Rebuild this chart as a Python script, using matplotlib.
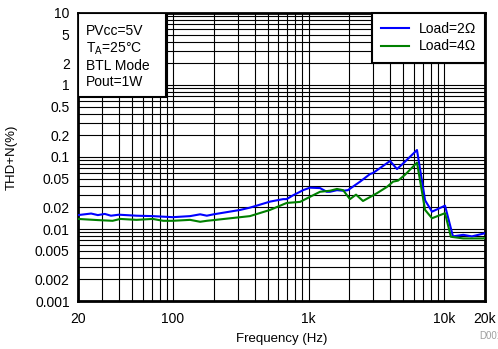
import numpy as np
import matplotlib
matplotlib.use("Agg")
import matplotlib.pyplot as plt
from matplotlib.ticker import FixedLocator, NullFormatter
from matplotlib.patches import Rectangle

plt.rcParams['font.family'] = ['Liberation Sans', 'DejaVu Sans']

# ---------------- data ----------------
freq_2ohm = [20, 25, 28, 31.5, 35, 40, 54, 71, 100, 134, 159, 178, 200, 313, 370, 415,
             520, 650, 690, 770, 866, 910, 1026, 1216, 1362, 1440, 1620, 1800, 1950,
             2400, 2840, 2990, 3990, 4490, 4970, 6300, 7230, 8130, 10140, 11600,
             13800, 16000, 19300, 20000]
thd_2ohm = [0.0156, 0.0164, 0.0156, 0.0162, 0.0153, 0.0158, 0.0153, 0.0151, 0.0146,
            0.0151, 0.016, 0.0153, 0.016, 0.0184, 0.0198, 0.0211, 0.024, 0.026, 0.026,
            0.0294, 0.0329, 0.0346, 0.0375, 0.037, 0.0329, 0.0329, 0.0346, 0.034,
            0.0346, 0.0455, 0.058, 0.06, 0.088, 0.068, 0.081, 0.125, 0.025, 0.0174,
            0.0211, 0.0079, 0.0083, 0.0079, 0.0086, 0.0087]

freq_4ohm = [20, 28, 36, 41, 54, 71, 85, 100, 134, 159, 178, 200, 370, 520, 690, 866,
             1026, 1216, 1440, 1620, 1800, 2020, 2240, 2520, 3200, 3790, 4200, 4570,
             5140, 6300, 7230, 8130, 10140, 11200, 13800, 19300, 20000]
thd_4ohm = [0.0138, 0.0133, 0.013, 0.0138, 0.0134, 0.0138, 0.013, 0.013, 0.0134,
            0.0126, 0.013, 0.0133, 0.0151, 0.0184, 0.023, 0.0238, 0.028, 0.0329, 0.034,
            0.036, 0.0346, 0.026, 0.030, 0.0245, 0.0315, 0.0385, 0.0455, 0.047,
            0.0566, 0.0835, 0.0184, 0.0141, 0.0166, 0.0078, 0.0074, 0.0074, 0.0075]

x_ticks = [20, 100, 1000, 10000, 20000]
x_labels = ['20', '100', '1k', '10k', '20k']
y_ticks = [0.001, 0.002, 0.005, 0.01, 0.02, 0.05, 0.1, 0.2, 0.5, 1, 2, 5, 10]
y_labels = ['0.001', '0.002', '0.005', '0.01', '0.02', '0.05', '0.1', '0.2', '0.5',
            '1', '2', '5', '10']

# ---------------- figure ----------------
fig = plt.figure(figsize=(4.98, 3.49), dpi=100)
ax = fig.add_axes([0.1566, 0.1375, 0.974 - 0.1566, 0.9628 - 0.1375])

ax.set_xscale('log')
ax.set_yscale('log')
ax.set_xlim(20, 20000)
ax.set_ylim(0.001, 10)

ax.plot(freq_2ohm, thd_2ohm, color='#0000ff', lw=1.5, label='Load=2\u03a9', zorder=3)
ax.plot(freq_4ohm, thd_4ohm, color='#008000', lw=1.5, label='Load=4\u03a9', zorder=3)

ax.xaxis.set_major_locator(FixedLocator(x_ticks))
ax.set_xticklabels(x_labels)
ax.yaxis.set_major_locator(FixedLocator(y_ticks))
ax.set_yticklabels(y_labels)
ax.xaxis.set_minor_locator(matplotlib.ticker.LogLocator(base=10, subs=np.arange(2, 10)))
ax.yaxis.set_minor_locator(matplotlib.ticker.LogLocator(base=10, subs=np.arange(2, 10)))
ax.xaxis.set_minor_formatter(NullFormatter())
ax.yaxis.set_minor_formatter(NullFormatter())
ax.tick_params(which='both', length=0, labelsize=10)
ax.tick_params(axis='x', pad=8)
ax.tick_params(axis='y', pad=6)

ax.grid(which='both', color='black', lw=0.8)
for s in ax.spines.values():
    s.set_linewidth(2)

ax.set_xlabel('Frequency (Hz)', fontsize=9.5, labelpad=5)
ax.set_ylabel('THD+N(%)', fontsize=9.5, labelpad=12)

leg = ax.legend(loc='upper right', fontsize=10, frameon=True, fancybox=False,
                framealpha=1, edgecolor='black', borderaxespad=0, handlelength=2.0,
                handletextpad=0.7, borderpad=0.65, labelspacing=0.25)
leg.get_frame().set_linewidth(1.5)

# condition box
ax.add_patch(Rectangle((0, 0.708), 0.216, 0.292, transform=ax.transAxes,
                       fc='white', ec='black', lw=1.5, zorder=4))
ax.text(0.02, 0.962, 'PVcc=5V\nT$_\\mathregular{A}$=25\u00b0C\nBTL Mode\nPout=1W',
        transform=ax.transAxes, fontsize=10, va='top', ha='left', linespacing=1.2,
        zorder=5)

fig.text(0.962, 0.022, 'D001', fontsize=7, color='#a0a0a0', ha='left', va='bottom')

fig.savefig('out.png', dpi=100)
